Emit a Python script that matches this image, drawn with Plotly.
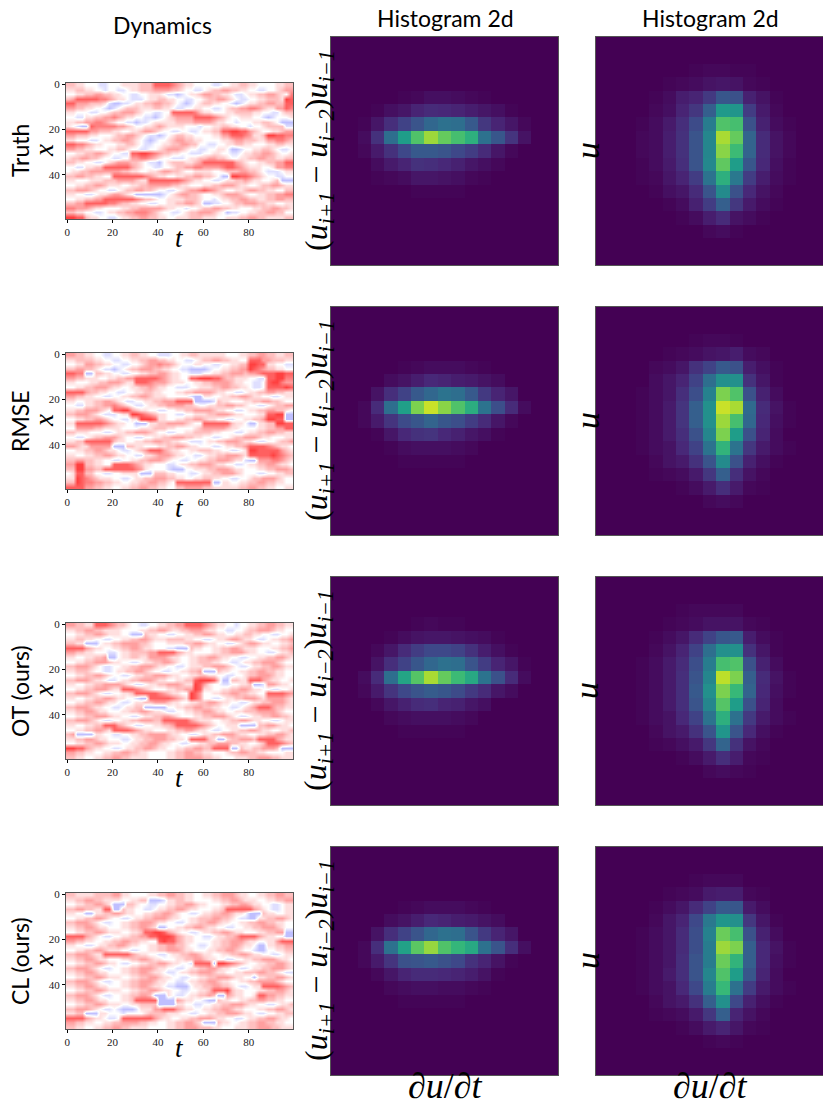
import numpy as np
import plotly.graph_objects as go

# Field snapshots read by eye: one character per cell, 0 = blue, 3 = white, 9 = red
# (rows are 2 x-units high, columns are 2 t-units wide)
truth_field = [
    "55443332233344445558888765443333223344554433334455",
    "44554433233223445556666554332234556655443322334566",
    "33445566554433223344432212344566554432234455665437",
    "56888887765443222344554433223345566543223344555498",
    "88666555421122344556655432123455443321234455665588",
    "66554433212345554445544322334433223455667765446687",
    "44333223345566654332233888887544333445555443322455",
    "33224455667654433221234566668888765433444332123334",
    "44556677654332212234444455556666544332333445543111",
    "43211877777665433445654444333233445544332334555522",
    "88888665554433445665433223322344558899886543344566",
    "66555443334556654322123455443333446688876445998877",
    "44333223445566543212334566554433334456655544667765",
    "88776544333445543223344556655332233445544333445544",
    "66554433344554332233456665433223344311233445543223",
    "33445566543322889987655443322233443322344556654334",
    "45566554332233667765433222344556655433445566554455",
    "55443322345666554322134555445688888886543344556688",
    "33224455888888654332233455667766667887654443346677",
    "34455666666655443344566554334444334555665543222344",
    "55665544338888888765443344556655431199887654332233",
    "44333444555666654488888887654433223445565443345111",
    "33445566544433445566666554433344556665443345566544",
    "55666543322345566554332234566787654334456655443355",
    "44332234456654311111123456655433445666543344556677",
    "33445566888888876554334444555433234455665544556655",
    "55668888877655443322334455665411223345566655443344",
    "77666544333344556666654433233455665544333445566554",
    "55443322344556677765433223455666543122334455665533",
    "99885443322344556655443344455544433444556655444455",
]
rmse_field = [
    "66554433223344554433222334455444444333445566554455",
    "44555544332233445566554433223455665544338886655544",
    "33446655443322334566766543334433223344559988443322",
    "55665543221234556665544332211112334455669876554433",
    "88771155443322334455665443322233445566656678889988",
    "66554443344556688888765443388999886554443322889977",
    "44333445566654488876665444334455666654433223899766",
    "33445566654433445565443322233444556655443223888898",
    "88886554433223344554433344556666544332234455665544",
    "66554433223344556654443333321144334455665443322344",
    "44334455665432233445566688881111254433344556655433",
    "33224455667654322344556666554334455665543322345566",
    "44556665438899654433223344556666544332234455665543",
    "55666543222344998765443322334445566654433344889911",
    "33445566543322449998443344556654433223344556998811",
    "44888888765443311144556666543388888854431144559988",
    "33666655444433334445554433334566666544333344556688",
    "55444333223445566654332233445555443332234455665544",
    "33223455666543322334455666554433223345566654433344",
    "44558888885443344556655443322234455666544322334556",
    "66544666661115544333445566544333223445568888765443",
    "33445566544322345688865443344555443322349988888654",
    "44334455665443322445666544332234455666548888898765",
    "55665544332233445566654332233445566654421166677654",
    "66995544338888765443332234455666544332234455665443",
    "55996655888888876433332111334445566654433344556665",
    "34885533223344441115554433322344556665433322334455",
    "44987654443322344556665544334455443322334556665433",
    "55987766554433445566554388888888114433445566554433",
    "88886655443344556655443355666655444444556655443344",
]
ot_field = [
    "66554488876554332233445566888876544332334455665544",
    "44556655444433334455665445566654433223345566654433",
    "33445566544433111544332233445566544334455443322334",
    "44554433223344556654445555443322344566544322344556",
    "55441113445566665543334444556654433223456654433445",
    "88886544334455665443332211154433445566544433344556",
    "66554433322344555566888865443333445566654433223445",
    "44334455611344554466665443344556654433223344556654",
    "33445566654433223445566543344555443322344556665433",
    "55666543223344556665443322344455666543223445566544",
    "44555433223445566543322334455611154433445566554433",
    "33445566543322344556665443344554433223345566654433",
    "55666544322344556665443344558999851155448886544334",
    "44334455666654322344556665449864332233445112665443",
    "33445566654488876543334455669844334455665443322334",
    "55666543223344588888765443398633445566554433888876",
    "44334455665443321188888765498633223445566654666654",
    "33445566544322344556665443344556654433223445566654",
    "55666544332234455111113344556655443322345688865544",
    "44556654433344556654432233445566544334455566665433",
    "33445566654433223445566543334455666543223445566554",
    "55666543223344556665588888865444334455665443322344",
    "44334455888654322334455688888765433444111155665443",
    "33445566548888765443334455665443223344556654433445",
    "56111144332233445566665443322344556665443344556654",
    "44556654433322344556665544388885411455666588886544",
    "33445566544433445566544332233445566655443345888765",
    "99886544332234455665443344556655888811544556665111",
    "66554433445566554433334455665544333455665544333344",
    "55443344556655444433334455666655443334445566655444",
]
cl_field = [
    "55444455556644333344556655443344556665443344556655",
    "44556655444433445511124455443333445566544433445566",
    "33445566541115543322334455665443334455665443322344",
    "55665544881154433223445566544333445888888654322344",
    "44331144556654433445566543322344556654431115443344",
    "33445566543322344556665443344555665543221144556654",
    "55666543223344556665443322344556654433445566554433",
    "44556654433344556654113344556654433223344556665433",
    "33445566544433445889986543322344556654433344556611",
    "88886543223344556688999865443322344556888865443311",
    "66554433445566554433898865443333445566654433446888",
    "44332234455665443344556655433223445566544311445566",
    "33445566544433223344556665443334455665433211334455",
    "55666544888888654433223445566544334455665443322344",
    "44556654433344556654433344556654433223344556665443",
    "33445566544322334455665443328888199876543344556654",
    "55666543223344556665443322344556654433223445566654",
    "44556654433344556654432234455666544334455566554322",
    "33445566544433445566544332233445566654433144556654",
    "55666543223344556665443322344556654433445566665433",
    "44556654433344556654432211134455665543223448888765",
    "33445566544433445566544332233445888954433344556654",
    "55666543223344556651114322344556511654433488665544",
    "44556654433344588888111165443321154433445566554433",
    "33445566544433445555111144332233445566654433223445",
    "55666543223211124446688865443344556654433344556654",
    "44551114433323333455554443322334455666544322334455",
    "88886544322388888886544334455666544332234455665443",
    "66554433445566665544334455665411154433445566554433",
    "55443344556655444433334455666555443334445566655444",
]

# 2d histogram counts, 17 x 17 bins, percent of the colour range
hist_truth_a = [
    [0] * 17, [0] * 17, [0] * 17, [0] * 17,
    [0, 0, 0, 0, 0, 1, 2, 4, 4, 3, 2, 1, 0, 0, 0, 0, 0],
    [0, 0, 0, 1, 4, 6, 10, 12, 11, 10, 8, 6, 4, 1, 0, 0, 0],
    [0, 0, 1, 6, 13, 20, 26, 33, 37, 36, 28, 16, 10, 6, 2, 0, 0],
    [0, 0, 3, 14, 36, 55, 72, 85, 76, 70, 63, 37, 27, 15, 5, 0, 0],
    [0, 0, 2, 7, 14, 22, 28, 28, 26, 22, 18, 12, 6, 2, 0, 0, 0],
    [0, 0, 0, 3, 7, 10, 14, 13, 11, 9, 6, 4, 2, 0, 0, 0, 0],
    [0, 0, 0, 1, 2, 3, 6, 6, 5, 4, 2, 1, 0, 0, 0, 0, 0],
    [0, 0, 0, 0, 0, 0, 1, 1, 1, 1, 0, 0, 0, 0, 0, 0, 0],
    [0] * 17, [0] * 17, [0] * 17, [0] * 17, [0] * 17,
]
hist_truth_b = [
    [0] * 17, [0] * 17,
    [0, 0, 0, 0, 0, 0, 0, 1, 2, 2, 1, 1, 0, 0, 0, 0, 0],
    [0, 0, 0, 0, 0, 1, 2, 3, 5, 6, 5, 2, 1, 0, 0, 0, 0],
    [0, 0, 0, 0, 1, 3, 8, 10, 17, 27, 25, 9, 5, 1, 0, 0, 0],
    [0, 0, 0, 0, 2, 4, 10, 16, 30, 54, 52, 18, 7, 2, 0, 0, 0],
    [0, 0, 0, 1, 3, 7, 13, 23, 42, 72, 70, 25, 9, 3, 1, 0, 0],
    [0, 0, 0, 2, 3, 8, 14, 26, 46, 87, 76, 32, 12, 5, 2, 0, 0],
    [0, 0, 0, 2, 3, 8, 14, 26, 46, 82, 68, 32, 12, 5, 2, 0, 0],
    [0, 0, 0, 1, 3, 7, 13, 26, 47, 75, 55, 27, 11, 4, 1, 0, 0],
    [0, 0, 0, 1, 2, 6, 10, 18, 38, 63, 40, 18, 8, 3, 1, 0, 0],
    [0, 0, 0, 0, 1, 4, 6, 12, 26, 48, 25, 11, 5, 2, 0, 0, 0],
    [0, 0, 0, 0, 0, 1, 3, 9, 18, 30, 16, 7, 3, 1, 0, 0, 0],
    [0, 0, 0, 0, 0, 0, 1, 3, 8, 12, 5, 3, 1, 0, 0, 0, 0],
    [0, 0, 0, 0, 0, 0, 0, 0, 2, 3, 1, 0, 0, 0, 0, 0, 0],
    [0] * 17, [0] * 17,
]
hist_rmse_a = [
    [0] * 17, [0] * 17, [0] * 17, [0] * 17,
    [0, 0, 0, 0, 0, 1, 2, 3, 3, 3, 2, 1, 0, 0, 0, 0, 0],
    [0, 0, 0, 0, 3, 5, 8, 11, 10, 8, 7, 5, 3, 0, 0, 0, 0],
    [0, 0, 0, 5, 13, 20, 28, 33, 38, 36, 28, 17, 10, 6, 0, 0, 0],
    [0, 0, 2, 12, 36, 56, 80, 92, 82, 72, 62, 38, 24, 12, 3, 0, 0],
    [0, 0, 2, 7, 15, 23, 27, 32, 27, 24, 18, 12, 6, 2, 0, 0, 0],
    [0, 0, 0, 1, 6, 11, 14, 15, 11, 9, 6, 4, 1, 0, 0, 0, 0],
    [0, 0, 0, 0, 1, 3, 4, 4, 4, 3, 2, 0, 0, 0, 0, 0, 0],
    [0, 0, 0, 0, 0, 1, 1, 1, 1, 1, 0, 0, 0, 0, 0, 0, 0],
    [0] * 17, [0] * 17, [0] * 17, [0] * 17, [0] * 17,
]
hist_rmse_b = [
    [0] * 17, [0] * 17,
    [0, 0, 0, 0, 0, 0, 0, 1, 2, 2, 1, 0, 0, 0, 0, 0, 0],
    [0, 0, 0, 0, 0, 1, 2, 3, 5, 6, 8, 3, 2, 0, 0, 0, 0],
    [0, 0, 0, 0, 2, 3, 6, 14, 20, 28, 25, 8, 4, 1, 0, 0, 0],
    [0, 0, 0, 0, 3, 6, 10, 20, 36, 50, 50, 14, 6, 1, 0, 0, 0],
    [0, 0, 0, 1, 3, 6, 13, 24, 44, 80, 72, 25, 9, 3, 0, 0, 0],
    [0, 0, 0, 1, 3, 7, 15, 30, 50, 92, 87, 34, 12, 5, 1, 0, 0],
    [0, 0, 0, 1, 3, 7, 15, 30, 50, 85, 70, 33, 11, 4, 1, 0, 0],
    [0, 0, 0, 1, 3, 7, 13, 25, 46, 80, 55, 25, 10, 3, 0, 0, 0],
    [0, 0, 0, 1, 3, 5, 11, 20, 38, 65, 38, 16, 7, 3, 1, 0, 0],
    [0, 0, 0, 0, 2, 5, 7, 14, 26, 48, 25, 9, 4, 1, 0, 0, 0],
    [0, 0, 0, 0, 1, 2, 3, 7, 16, 30, 13, 5, 2, 0, 0, 0, 0],
    [0, 0, 0, 0, 0, 0, 1, 3, 7, 13, 7, 2, 1, 0, 0, 0, 0],
    [0, 0, 0, 0, 0, 0, 0, 0, 2, 3, 2, 0, 0, 0, 0, 0, 0],
    [0] * 17, [0] * 17,
]
hist_ot_a = [
    [0] * 17, [0] * 17, [0] * 17,
    [0, 0, 0, 0, 0, 0, 1, 2, 1, 1, 0, 0, 0, 0, 0, 0, 0],
    [0, 0, 0, 0, 1, 3, 5, 6, 6, 5, 4, 3, 1, 0, 0, 0, 0],
    [0, 0, 0, 2, 6, 12, 18, 22, 22, 20, 14, 8, 4, 1, 0, 0, 0],
    [0, 0, 0, 5, 13, 20, 27, 33, 37, 36, 26, 18, 10, 6, 1, 0, 0],
    [0, 0, 3, 12, 36, 58, 73, 87, 76, 68, 60, 38, 25, 12, 3, 0, 0],
    [0, 0, 2, 7, 15, 22, 26, 29, 27, 23, 17, 12, 6, 3, 0, 0, 0],
    [0, 0, 0, 2, 6, 9, 12, 13, 10, 9, 6, 4, 0, 0, 0, 0, 0],
    [0, 0, 0, 0, 2, 3, 4, 4, 4, 3, 2, 0, 0, 0, 0, 0, 0],
    [0, 0, 0, 0, 0, 1, 1, 1, 1, 1, 0, 0, 0, 0, 0, 0, 0],
    [0] * 17, [0] * 17, [0] * 17, [0] * 17, [0] * 17,
]
hist_ot_b = [
    [0] * 17, [0] * 17,
    [0, 0, 0, 0, 0, 0, 1, 2, 2, 2, 2, 0, 0, 0, 0, 0, 0],
    [0, 0, 0, 0, 0, 1, 2, 3, 5, 5, 5, 2, 1, 0, 0, 0, 0],
    [0, 0, 0, 0, 1, 3, 6, 12, 20, 27, 28, 8, 3, 1, 0, 0, 0],
    [0, 0, 0, 0, 2, 5, 10, 20, 36, 50, 50, 14, 6, 1, 0, 0, 0],
    [0, 0, 0, 1, 3, 7, 12, 24, 42, 70, 72, 25, 9, 3, 0, 0, 0],
    [0, 0, 0, 1, 3, 7, 13, 26, 46, 90, 80, 30, 12, 5, 1, 0, 0],
    [0, 0, 0, 1, 3, 7, 13, 28, 50, 80, 67, 32, 11, 4, 1, 0, 0],
    [0, 0, 0, 1, 3, 7, 13, 26, 46, 73, 55, 25, 10, 3, 0, 0, 0],
    [0, 0, 0, 1, 3, 5, 11, 20, 38, 63, 37, 17, 7, 3, 1, 0, 0],
    [0, 0, 0, 0, 2, 5, 7, 14, 26, 52, 26, 11, 4, 1, 0, 0, 0],
    [0, 0, 0, 0, 1, 2, 4, 7, 16, 32, 14, 5, 2, 0, 0, 0, 0],
    [0, 0, 0, 0, 0, 0, 1, 3, 7, 13, 8, 2, 1, 0, 0, 0, 0],
    [0, 0, 0, 0, 0, 0, 0, 0, 2, 3, 2, 1, 0, 0, 0, 0, 0],
    [0] * 17, [0] * 17,
]
hist_cl_a = [
    [0] * 17, [0] * 17, [0] * 17, [0] * 17,
    [0, 0, 0, 0, 0, 1, 2, 3, 3, 3, 2, 1, 0, 0, 0, 0, 0],
    [0, 0, 0, 0, 3, 5, 8, 11, 10, 8, 7, 5, 3, 0, 0, 0, 0],
    [0, 0, 0, 5, 13, 20, 26, 33, 37, 36, 26, 17, 10, 6, 0, 0, 0],
    [0, 0, 2, 13, 37, 57, 74, 84, 72, 66, 60, 37, 26, 13, 4, 0, 0],
    [0, 0, 2, 7, 15, 25, 26, 28, 25, 22, 14, 10, 5, 1, 0, 0, 0],
    [0, 0, 0, 2, 6, 10, 12, 12, 11, 10, 8, 5, 1, 0, 0, 0, 0],
    [0, 0, 0, 0, 2, 3, 4, 4, 3, 3, 2, 1, 0, 0, 0, 0, 0],
    [0, 0, 0, 0, 0, 1, 1, 1, 1, 1, 0, 0, 0, 0, 0, 0, 0],
    [0] * 17, [0] * 17, [0] * 17, [0] * 17, [0] * 17,
]
hist_cl_b = [
    [0] * 17, [0] * 17,
    [0, 0, 0, 0, 0, 0, 0, 1, 2, 2, 2, 0, 0, 0, 0, 0, 0],
    [0, 0, 0, 0, 0, 1, 2, 3, 7, 8, 8, 2, 1, 0, 0, 0, 0],
    [0, 0, 0, 0, 1, 3, 6, 12, 20, 28, 27, 7, 3, 0, 0, 0, 0],
    [0, 0, 0, 0, 2, 6, 10, 22, 40, 52, 50, 16, 6, 1, 0, 0, 0],
    [0, 0, 0, 1, 3, 6, 12, 24, 44, 77, 70, 25, 9, 3, 0, 0, 0],
    [0, 0, 0, 1, 3, 6, 12, 24, 42, 85, 80, 30, 11, 5, 1, 0, 0],
    [0, 0, 0, 1, 3, 6, 13, 26, 42, 77, 65, 30, 11, 4, 1, 0, 0],
    [0, 0, 0, 1, 3, 7, 13, 26, 46, 72, 55, 27, 10, 3, 0, 0, 0],
    [0, 0, 0, 1, 3, 5, 11, 22, 42, 67, 37, 18, 7, 3, 1, 0, 0],
    [0, 0, 0, 0, 2, 5, 7, 14, 30, 50, 22, 9, 4, 1, 0, 0, 0],
    [0, 0, 0, 0, 1, 2, 3, 7, 16, 30, 10, 5, 2, 0, 0, 0, 0],
    [0, 0, 0, 0, 0, 0, 1, 3, 7, 10, 6, 2, 1, 0, 0, 0, 0],
    [0, 0, 0, 0, 0, 0, 0, 0, 1, 2, 1, 0, 0, 0, 0, 0, 0],
    [0] * 17, [0] * 17,
]

row_names = ["Truth", "RMSE", "OT (ours)", "CL (ours)"]
fields = [truth_field, rmse_field, ot_field, cl_field]
hists_a = [hist_truth_a, hist_rmse_a, hist_ot_a, hist_cl_a]
hists_b = [hist_truth_b, hist_rmse_b, hist_ot_b, hist_cl_b]
t_ticks = [0, 20, 40, 60, 80]
x_ticks = [0, 20, 40]

# The page has an 8px body margin, so everything below is placed in window pixels minus that
OFF = 8
W, H = 831 - OFF, 1109 - OFF
sans = "Lato"
serif = "Liberation Serif"
row_tops = [37, 307, 577, 847]
spine = "#555555"

bwr = [[0, "#0000ff"], [0.5, "#ffffff"], [1, "#ff0000"]]

fig = go.Figure()
annotations = []


def px_x(x0, x1):
    return [(x0 - OFF) / W, (x1 - OFF) / W]


def px_y(y0, y1):
    return [1 - (y1 - OFF) / H, 1 - (y0 - OFF) / H]


def label(text, x, y, size, font=serif, angle=0):
    annotations.append(dict(text=text, x=(x - OFF) / W, y=1 - (y - OFF) / H, xref="paper", yref="paper",
                            showarrow=False, textangle=angle, xanchor="center", yanchor="middle",
                            font=dict(family=font, size=size, color="black")))


n = 1
for i, top in enumerate(row_tops):
    # dynamics panel
    z = np.array([[int(c) for c in r.ljust(50, "3")[:50]] for r in fields[i]])
    fig.add_trace(go.Heatmap(z=z, x=np.arange(50) * 2 + 0.5, y=np.arange(30) * 2 + 0.5, colorscale=bwr,
                             zmin=-5, zmax=11, zsmooth="best", showscale=False,
                             xaxis=f"x{n}", yaxis=f"y{n}"))
    fig.layout[f"xaxis{n}"] = dict(domain=px_x(66, 293), range=[-0.5, 99.5], anchor=f"y{n}",
                                   tickvals=t_ticks, ticks="outside", ticklen=3, tickcolor="black",
                                   showline=True, mirror=True, linecolor=spine, showgrid=False,
                                   zeroline=False, tickfont=dict(family=serif, size=11, color="#222222"))
    fig.layout[f"yaxis{n}"] = dict(domain=px_y(top + 46, top + 182), range=[59.5, -0.5], anchor=f"x{n}",
                                   tickvals=x_ticks, ticks="outside", ticklen=3, tickcolor="black",
                                   showline=True, mirror=True, linecolor=spine, showgrid=False,
                                   zeroline=False, tickfont=dict(family=serif, size=11, color="#222222"))
    n += 1

    # histogram panels
    for hist, x0 in ((hists_a[i], 331), (hists_b[i], 596)):
        fig.add_trace(go.Heatmap(z=hist, colorscale="Viridis", zmin=0, zmax=100, showscale=False,
                                 xaxis=f"x{n}", yaxis=f"y{n}"))
        fig.layout[f"xaxis{n}"] = dict(domain=px_x(x0, x0 + 227), range=[-0.5, 16.5], anchor=f"y{n}",
                                       showticklabels=False, ticks="", showline=True, mirror=True,
                                       linecolor=spine, showgrid=False, zeroline=False)
        fig.layout[f"yaxis{n}"] = dict(domain=px_y(top, top + 228), range=[16.5, -0.5], anchor=f"x{n}",
                                       showticklabels=False, ticks="", showline=True, mirror=True,
                                       linecolor=spine, showgrid=False, zeroline=False)
        n += 1

    mid = top + 114
    label(row_names[i], 20, mid, 23, sans, -90)
    label("<i>x</i>", 44, mid, 27, serif, -90)
    label("<i>t</i>", 179, top + 201, 27, serif)
    label("(<i>u<sub>i+1</sub></i> − <i>u<sub>i−2</sub></i>)<i>u<sub>i−1</sub></i>", 318, mid, 32, serif, -90)
    label("<i>u</i>", 587, mid, 34, serif, -90)

label("Dynamics", 162, 25, 23, sans)
label("Histogram 2d", 445, 18, 23, sans)
label("Histogram 2d", 710, 18, 23, sans)
label("∂<i>u</i>/∂<i>t</i>", 445, 1086, 36, serif)
label("∂<i>u</i>/∂<i>t</i>", 710, 1086, 36, serif)

fig.update_layout(width=W, height=H, margin=dict(l=0, r=0, t=0, b=0, autoexpand=False), paper_bgcolor="white",
                  plot_bgcolor="white", annotations=annotations)

fig.write_html("out.html")
